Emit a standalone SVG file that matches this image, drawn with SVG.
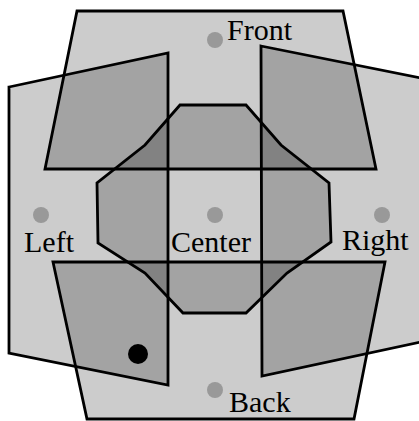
<svg xmlns="http://www.w3.org/2000/svg" width="419" height="421" viewBox="0 0 419 421">
<style>
.reg{fill:#000;fill-opacity:0.2;stroke:#000;stroke-width:2.8;stroke-linejoin:miter}
.dot{fill:#999}
.lbl{font-family:"Liberation Serif","Times New Roman",serif;font-size:30px;fill:#000}
</style>
<rect width="419" height="421" fill="#fff"/>
<g id="front-view"><polygon class="reg" points="77,11 343,11 376,169 45,169"/></g>
<g id="left-view"><polygon class="reg" points="9,87 168,53 168,385 9,353"/></g>
<g id="right-view"><polygon class="reg" points="261,46 421,78 421,342 262,376"/></g>
<g id="back-view"><polygon class="reg" points="53,262 385,262 354,419 87,419"/></g>
<g id="center-view"><polygon class="reg" points="180,105 246,105 281,145 329,183 331,242 287,273 246,313 183,313 145,273 98,243 97,183 145,145"/></g>
<g id="front"><circle class="dot" cx="215" cy="40" r="8"/><text class="lbl" x="227" y="40">Front</text></g>
<g id="left"><circle class="dot" cx="41" cy="215" r="8"/><text class="lbl" x="24" y="252">Left</text></g>
<g id="center"><circle class="dot" cx="215" cy="215" r="8"/><text class="lbl" x="171" y="252">Center</text></g>
<g id="right"><circle class="dot" cx="382" cy="215" r="8"/><text class="lbl" x="342" y="250">Right</text></g>
<g id="back"><circle class="dot" cx="215" cy="390" r="8"/><text class="lbl" x="229" y="412">Back</text></g>
<g id="marker"><circle cx="138" cy="354" r="10" fill="#000"/></g>
</svg>
